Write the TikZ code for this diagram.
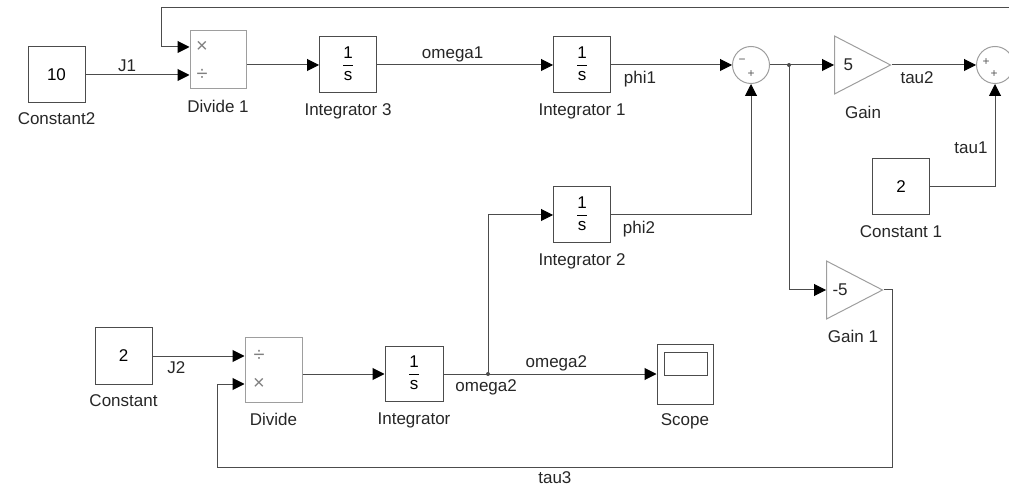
\documentclass[tikz,border=0pt]{standalone}
\usepackage{fontspec}
\setmainfont{Liberation Sans}
\usetikzlibrary{positioning,shapes,arrows.meta}
\usepackage{xcolor}
\definecolor{wirec}{gray}{0.3}
\definecolor{edgec}{gray}{0.62}
\newcommand{\ovs}{{\renewcommand{\arraystretch}{1.05}\setlength{\arrayrulewidth}{0.8pt}%
    \begin{tabular}{@{}c@{}}1\\\hline s\end{tabular}}}

\begin{document}
\begin{tikzpicture}[x=1pt, y=-1pt, line width=1pt, font=\fontsize{17}{20}\selectfont,
        blk/.style={rectangle, draw=wirec, minimum width=57pt, minimum height=56pt, inner sep=0pt},
        prod/.style={rectangle, draw=edgec, minimum width=56pt, inner sep=0pt},
        amp/.style={isosceles triangle, isosceles triangle stretches, draw=edgec, minimum width=58pt, minimum height=56pt, inner sep=0pt, anchor=west},
        sumc/.style={circle, draw=edgec, minimum size=37pt, inner sep=0pt},
        tag/.style={inner sep=0pt, text=black!85},
        lbl/.style={inner sep=2pt, text=black!85},
        sgn/.style={font=\fontsize{12}{12}\selectfont, text=black!65, inner sep=0pt},
        opsym/.style={font=\fontsize{20}{20}\selectfont, text=black!50, inner sep=0pt},
        wire/.style={draw=wirec},
        sig/.style={draw=wirec, -{Triangle[length=12pt,width=12pt,color=black]}}]
    \useasboundingbox (0,0) rectangle (1009,486);
    % top row
    \node[blk] (c2) at (56.5,75) {10};
    \node[tag, below=9pt of c2] (c2l) {Constant2};
    \node[prod, minimum height=58pt] (d1) at (218,60) {};
    \node[opsym] (d1m) at (202,47) {×};
    \node[opsym] (d1d) at (202,75) {÷};
    \node[tag, below=10pt of d1] (d1l) {Divide 1};
    \node[blk] (int3) at (348,65) {\ovs};
    \node[tag, below=10pt of int3] (int3l) {Integrator 3};
    \node[blk] (int1) at (582,65) {\ovs};
    \node[tag, below=10pt of int1] (int1l) {Integrator 1};
    \node[sumc] (sum1) at (751,65) {};
    \node[sgn] (sum1a) at (742,61) {−};
    \node[sgn] (sum1b) at (751,74) {+};
    \node[amp] (gain) at (834,65) {};
    \node[tag, anchor=west] (gaink) at ([xshift=9pt]gain.west) {5};
    \node[tag] (gainl) at (863,112) {Gain};
    \node[sumc] (sum2) at (995,65) {};
    \node[sgn] (sum2a) at (986,62) {+};
    \node[sgn] (sum2b) at (994,74) {+};
    \node[blk] (c1) at (901,187) {2};
    \node[tag, below=10pt of c1] (c1l) {Constant 1};
    \node[blk] (int2) at (582,215) {\ovs};
    \node[tag, below=10pt of int2] (int2l) {Integrator 2};
    % bottom row
    \node[blk, minimum height=57pt] (c) at (123.5,356) {2};
    \node[tag, below=9pt of c] (cl) {Constant};
    \node[prod, minimum width=57pt, minimum height=65pt] (div) at (273.5,369.5) {};
    \node[opsym] (divd) at (259,356) {÷};
    \node[opsym] (divm) at (259,384) {×};
    \node[tag, below=10pt of div] (divl) {Divide};
    \node[blk, minimum width=58pt, minimum height=55pt] (int) at (414,374) {\ovs};
    \node[tag, below=10pt of int] (intl) {Integrator};
    \node[blk, minimum width=56pt, minimum height=60pt] (scope) at (685,374) {};
    \node[draw=wirec, minimum width=43pt, minimum height=23pt, inner sep=0pt] (screen) at (685.5,363.5) {};
    \node[tag, below=9pt of scope] (scopel) {Scope};
    \node[amp] (gain1) at (826,290) {};
    \node[tag, anchor=west] (gain1k) at ([xshift=6pt]gain1.west) {-5};
    \node[tag] (gain1l) at (853,336) {Gain 1};
    \coordinate (br1) at (789,65);
    \coordinate (br2) at (488,374);
    \coordinate (top) at (161,8);
    \coordinate (fb3) at (217,467);
    % signals
    \draw[sig] (c2) -- (c2 -| d1.west) node[lbl, above=1pt, pos=.4] {J1};
    \draw[sig] (d1.east |- int3) -- (int3);
    \draw[sig] (int3) -- (int1) node[lbl, above, pos=.43] {omega1};
    \draw[sig] (int1) -- (sum1) node[lbl, below=4pt, pos=.24] {phi1};
    \draw[sig] (sum1) -- (gain);
    \draw[sig] (br1) |- (gain1);
    \fill[wirec] (br1) circle (2pt);
    \draw[sig] (gain) -- (sum2) node[lbl, below=4pt, pos=.3] {tau2};
    \draw[sig] (c1) -| (sum2) node[lbl, left=5pt, pos=.69] {tau1};
    \draw[sig] (sum2) -- ++(30,0) |- (top) |- ([yshift=13pt]d1.west);
    \draw[sig] (int2) -| (sum1) node[lbl, below=4pt, pos=.1] {phi2};
    \draw[sig] (c) -- (c -| div.west) node[lbl, below=3pt, pos=.26] {J2};
    \draw[sig] (div.east |- int) -- (int);
    \draw[sig] (int) -- (scope) node[lbl, below=3pt, pos=.2] {omega2} node[lbl, above, pos=.53] {omega2};
    \draw[sig] (br2) |- (int2);
    \fill[wirec] (br2) circle (2pt);
    \draw[sig] (gain1.apex) -- ++(9,0) |- (fb3) node[lbl, below=2pt, pos=.75] {tau3} |- ([yshift=-14.5pt]div.west);
\end{tikzpicture}
\end{document}
